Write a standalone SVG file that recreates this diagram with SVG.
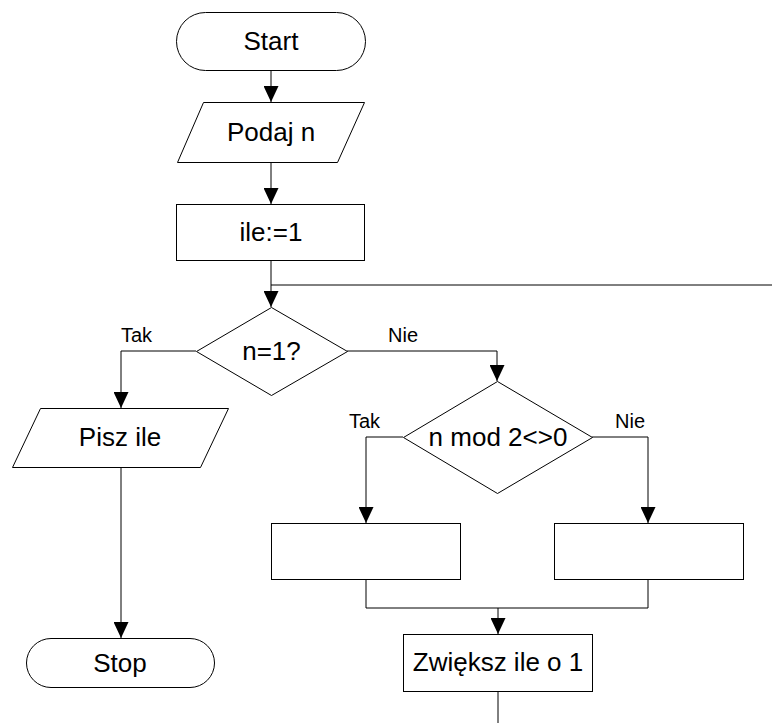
<svg xmlns="http://www.w3.org/2000/svg" width="772" height="723" viewBox="0 0 772 723">
<style>
.s{fill:#fff;stroke:#000;stroke-width:1}
.c{fill:none;stroke:#000;stroke-width:1}
.t{font-family:"Liberation Sans",Arial,sans-serif;font-size:26px;fill:#000;text-anchor:middle}
.l{font-family:"Liberation Sans",Arial,sans-serif;font-size:20px;fill:#000}
</style>
<defs>
<marker id="a" markerUnits="userSpaceOnUse" markerWidth="16" markerHeight="15" refX="16" refY="7.5" orient="auto" viewBox="0 0 16 15">
<path d="M0,0 L16,7.5 L0,15 Z" fill="#000"/>
</marker>
</defs>
<g id="connectors">
<line class="c" x1="271" y1="70" x2="271" y2="102" marker-end="url(#a)"/>
<line class="c" x1="271" y1="162" x2="271" y2="204" marker-end="url(#a)"/>
<line class="c" x1="271" y1="260" x2="271" y2="307" marker-end="url(#a)"/>
<line class="c" x1="271" y1="285" x2="772" y2="285"/>
<polyline class="c" points="196,351 121,351 121,408" marker-end="url(#a)"/>
<line class="c" x1="121" y1="467" x2="121" y2="638" marker-end="url(#a)"/>
<polyline class="c" points="347,351 497,351 497,381" marker-end="url(#a)"/>
<polyline class="c" points="403,437 366,437 366,523" marker-end="url(#a)"/>
<polyline class="c" points="592,437 648,437 648,523" marker-end="url(#a)"/>
<polyline class="c" points="366,579 366,608 648,608 648,579"/>
<line class="c" x1="498" y1="608" x2="498" y2="634" marker-end="url(#a)"/>
<line class="c" x1="498" y1="691" x2="498" y2="723"/>
<text class="l" x="121" y="342">Tak</text>
<text class="l" x="388" y="342">Nie</text>
<text class="l" x="349" y="428">Tak</text>
<text class="l" x="615" y="428">Nie</text>
</g>
<g id="start">
<rect class="s" x="176.5" y="12.5" width="189" height="58" rx="29" ry="29"/>
<text class="t" x="271" y="50">Start</text>
</g>
<g id="podaj">
<polygon class="s" points="203.5,102.5 364.5,102.5 337.5,162.5 177.5,162.5"/>
<text class="t" x="271" y="141">Podaj n</text>
</g>
<g id="ile">
<rect class="s" x="176.5" y="204.5" width="188" height="56"/>
<text class="t" x="271" y="241">ile:=1</text>
</g>
<g id="dec1">
<polygon class="s" points="271.5,307.5 347.5,351.5 271.5,395.5 196.5,351.5"/>
<text class="t" x="271.5" y="360">n=1?</text>
</g>
<g id="pisz">
<polygon class="s" points="40.5,408.5 228.5,408.5 200.5,467.5 12.5,467.5"/>
<text class="t" x="120" y="446">Pisz ile</text>
</g>
<g id="stop">
<rect class="s" x="26.5" y="638.5" width="188" height="49" rx="24.5" ry="24.5"/>
<text class="t" x="120" y="672">Stop</text>
</g>
<g id="dec2">
<polygon class="s" points="497.5,381.5 592.5,437.5 497.5,493.5 403.5,437.5"/>
<text class="t" x="498" y="446">n mod 2&lt;&gt;0</text>
</g>
<g id="box1">
<rect class="s" x="271.5" y="523.5" width="189" height="56"/>
</g>
<g id="box2">
<rect class="s" x="554.5" y="523.5" width="189" height="56"/>
</g>
<g id="zwieksz">
<rect class="s" x="403.5" y="634.5" width="189" height="57"/>
<text class="t" x="498" y="671">Zwiększ ile o 1</text>
</g>
</svg>
